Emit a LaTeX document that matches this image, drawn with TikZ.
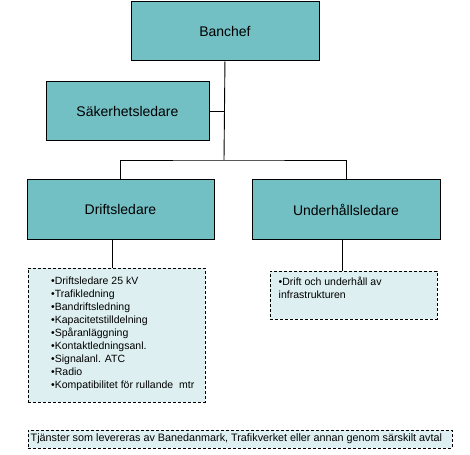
\documentclass[tikz,border=0pt]{standalone}
\usepackage{fontspec}
\setmainfont{Liberation Sans}
\definecolor{teal1}{RGB}{114,191,196}
\definecolor{light1}{RGB}{221,239,240}
\begin{document}
\begin{tikzpicture}[x=1pt,y=-1pt,
  rolebox/.style={draw=black, line width=0.9pt, fill=teal1, minimum width=#1, minimum height=59, inner sep=0, anchor=north west, font=\fontsize{14}{16}\selectfont},
  listbox/.style={draw=black, line width=0.9pt, fill=light1, dash pattern=on 3pt off 2pt, inner sep=0, anchor=north west},
  listtext/.style={anchor=north west, align=left, inner sep=0, font=\fontsize{10.5}{12.9}\selectfont},
  conn/.style={draw=black, line width=0.9pt}]
\useasboundingbox (0,0) rectangle (470,454);
\node[rolebox=188] (ban) at (130.5,1.5) {Banchef};
\node[rolebox=163] (sak) at (45.5,81.5) {Säkerhetsledare};
\node[rolebox=187] (dri) at (26.5,179.5) {Driftsledare};
\node[rolebox=188] (und) at (251.5,179.5) {Underhållsledare};
\coordinate (j) at (224,160);
\draw[conn] (ban.south) -- (j);
\draw[conn] (sak.east) -- (sak.east -| ban.south);
\draw[conn] (dri.north) |- (j) -| (und.north);
\node[listbox, minimum width=177, minimum height=134] (dl) at (27.5,267.5) {};
\node[listbox, minimum width=167, minimum height=48] (ul) at (269.5,270.5) {};
\node[listbox, minimum width=424, minimum height=18] (bl) at (27.5,429.5) {};
\draw[conn] ([xshift=-8.5]dri.south) -- ([xshift=-8.5]dri.south |- dl.north);
\draw[conn] ([xshift=-4]und.south) -- ([xshift=-4]und.south |- ul.north);
\node[listtext] (dlt) at (51,277) {•Driftsledare 25 kV\\•Trafikledning\\•Bandriftsledning\\•Kapacitetstilldelning\\•Spåranläggning\\•Kontaktledningsanl.\\•Signalanl. ATC\\•Radio\\•Kompatibilitet för rullande\ \ mtr};
\node[listtext] (ult) at (278.5,277) {•Drift och underhåll av\\infrastrukturen};
\node[listtext, anchor=base west, font=\fontsize{10.8}{13}\selectfont] (blt) at (30.5,441) {Tjänster som levereras av Banedanmark, Trafikverket eller annan genom särskilt avtal};
\end{tikzpicture}
\end{document}
